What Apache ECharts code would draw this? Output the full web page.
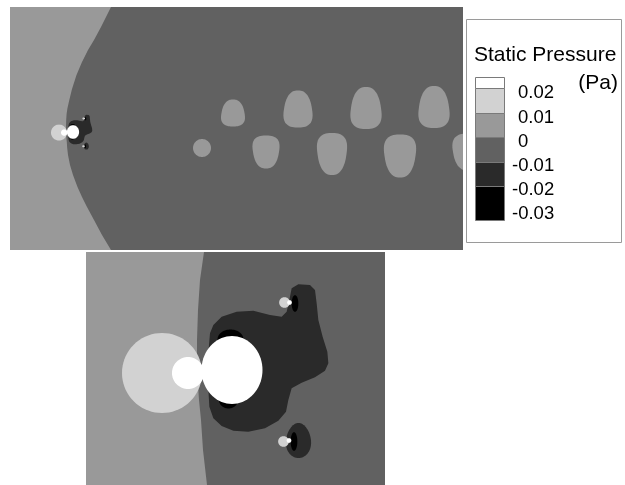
<!DOCTYPE html>
<html><head><meta charset="utf-8">
<script src="https://cdn.jsdelivr.net/npm/echarts@6/dist/echarts.min.js"></script>
<style>html,body{margin:0;padding:0;background:#fff}#c{width:625px;height:485px}</style>
</head><body><div id="c"></div>
<script>
// ---- contour bands (Static Pressure, Pa) ----
const legendLabels = ['0.02', '0.01', '0', '-0.01', '-0.02', '-0.03'];
const bandColors = ['#ffffff', '#d2d2d2', '#999999', '#616161', '#2a2a2a', '#000000'];

// 0 Pa isoline in front of the body (domain units): x, y
const frontX = [-80, 101, 91, 84, 78, 72, 66.5, 62, 59.3, 57.4, 56.6, 56.2, 56.0, 56.0, 56.4, 56.8, 57.2, 58.0, 60, 63, 67.5, 72, 77, 84, 92, 101, 110, -80];
const frontY = [-20, 0, 20, 33, 43, 55, 68, 82, 93, 101.4, 107, 113, 119, 125, 131, 135, 141, 148, 158, 168, 180, 190, 200, 213, 228, 243, 262, 262];

// wake cells (0 .. 0.01 Pa): centre x, y, width, height, taper (+1 narrow top, -1 narrow bottom)
const wakeX = [223, 288, 356, 424, 192, 256, 322, 390, 458];
const wakeY = [106, 102, 101, 100, 141, 145, 147, 149, 145];
const wakeW = [23, 28, 30, 30, 18, 26, 29, 31, 30];
const wakeH = [27, 37, 42, 42, 18, 33, 42, 43, 37];
const wakeTaper = [1, 1, 1, 1, 0, -1, -1, -1, -1];

// suction zone (-0.02 .. -0.01 Pa) behind the body
const suctionX = [58.6, 59.27, 60.93, 63.93, 67.27, 70.6, 72.93, 73.93, 74.47, 74.93, 76.27, 78.6, 79.6, 79.93, 80.27, 81.13, 82.07, 82.27, 81.6, 79.6, 76.93, 74.93, 74.27, 73.8, 72.27, 69.6, 66.27, 63.27, 60.93, 59.27, 58.47, 58.2, 58.2];
const suctionY = [117.67, 116.0, 114.33, 113.33, 113.13, 114.0, 114.33, 113.33, 111.0, 108.67, 107.87, 108.0, 109.0, 111.67, 115.0, 118.33, 121.33, 123.67, 125.13, 126.47, 127.53, 128.67, 131.0, 133.33, 135.13, 136.67, 137.33, 137.13, 136.2, 134.67, 132.33, 127.67, 122.33];
// lower suction pocket: x, y, radius x, radius y
const pocketX = [76.3], pocketY = [139.1], pocketRX = [2.5], pocketRY = [3.5];

// strongest suction (< -0.02 Pa)
const coreX = [62.7, 62.3, 75.6, 75.4];
const coreY = [118.9, 131.0, 111.7, 139.3];
const coreRX = [2.6, 1.9, 0.67, 0.67];
const coreRY = [2.0, 1.7, 1.67, 1.87];

// 0.01 .. 0.02 Pa
const highX = [49.0, 73.5, 73.3];
const highY = [125.6, 111.5, 139.3];
const highRX = [8.0, 1.07, 1.07];
const highRY = [8.0, 1.07, 1.07];

// > 0.02 Pa
const peakX = [54.2, 63.0, 74.5, 74.4];
const peakY = [125.6, 125.0, 111.5, 139.1];
const peakRX = [3.2, 6.1, 0.47, 0.47];
const peakRY = [3.2, 6.8, 0.47, 0.47];

const FONT = '"Liberation Sans", Arial, sans-serif';

function shapePoints(c, s, taper, power) {
  const pts = [], n = 72, e = 2 / power;
  for (let i = 0; i < n; i++) {
    const t = i / n * 2 * Math.PI;
    const ct = Math.cos(t), st = Math.sin(t);
    const px = Math.sign(ct) * Math.pow(Math.abs(ct), e);
    const py = Math.sign(st) * Math.pow(Math.abs(st), e);
    const f = 1 + taper * 0.2 * py;
    pts.push([c[0] + s[0] * px * f, c[1] + s[1] * py]);
  }
  return pts;
}

function polySeries(g, xs, ys, color) {
  return {
    type: 'custom', xAxisIndex: g, yAxisIndex: g, clip: true, silent: true,
    data: xs.map((x, i) => [x, ys[i]]),
    renderItem(params, api) {
      if (params.dataIndex !== 0) return null;
      const pts = xs.map((x, i) => api.coord([x, ys[i]]));
      return { type: 'polygon', shape: { points: pts }, style: { fill: color } };
    }
  };
}

function blobSeries(g, xs, ys, rxs, rys, tapers, color, power) {
  return {
    type: 'custom', xAxisIndex: g, yAxisIndex: g, clip: true, silent: true,
    data: xs.map((x, i) => [x, ys[i], rxs[i], rys[i], tapers ? tapers[i] : 0]),
    renderItem(params, api) {
      const c = api.coord([api.value(0), api.value(1)]);
      const s = api.size([api.value(2), api.value(3)]);
      const tp = api.value(4);
      const pw = tp === 0 ? 2 : power;
      return { type: 'polygon', shape: { points: shapePoints(c, [Math.abs(s[0]), Math.abs(s[1])], tp, pw) }, style: { fill: color } };
    }
  };
}

function panelSeries(g) {
  return [
    polySeries(g, frontX, frontY, bandColors[2]),
    blobSeries(g, wakeX, wakeY, wakeW.map(w => w / 2), wakeH.map(h => h / 2), wakeTaper, bandColors[2], 2.6),
    polySeries(g, suctionX, suctionY, bandColors[4]),
    blobSeries(g, pocketX, pocketY, pocketRX, pocketRY, [0.6], bandColors[4], 2),
    blobSeries(g, coreX, coreY, coreRX, coreRY, null, bandColors[5], 2),
    blobSeries(g, highX, highY, highRX, highRY, null, bandColors[1], 2),
    blobSeries(g, peakX, peakY, peakRX, peakRY, null, bandColors[0], 2)
  ];
}

// legend graphic built from the band arrays
const swTop = [77, 88, 113, 137, 162, 186];
const swBot = [88, 113, 137, 162, 186, 220];
const labY = [93.3, 117.8, 141.5, 165.5, 189.5, 213.5];
const graphics = [
  { type: 'rect', shape: { x: 466.5, y: 19.5, width: 155, height: 223 }, style: { fill: '#fff', stroke: '#9a9a9a', lineWidth: 1 } },
  { type: 'text', x: 474, y: 55, style: { text: 'Static Pressure', font: '21px ' + FONT, fill: '#000', align: 'left', verticalAlign: 'middle', textAlign: 'left', textVerticalAlign: 'middle' } },
  { type: 'text', x: 618, y: 83, style: { text: '(Pa)', font: '21px ' + FONT, fill: '#000', align: 'right', verticalAlign: 'middle', textAlign: 'right', textVerticalAlign: 'middle' } }
];
bandColors.forEach((col, i) => {
  graphics.push({ type: 'rect', shape: { x: 475.5, y: swTop[i] + 0.5, width: 29, height: swBot[i] - swTop[i] }, style: { fill: col, stroke: '#7a7a7a', lineWidth: 1 } });
});
legendLabels.forEach((lab, i) => {
  graphics.push({ type: 'text', x: lab.startsWith('-') ? 512 : 518, y: labY[i], style: { text: lab, font: '18.5px ' + FONT, fill: '#000', align: 'left', verticalAlign: 'middle', textAlign: 'left', textVerticalAlign: 'middle' } });
});

const chart = echarts.init(document.getElementById('c'));
chart.setOption({
  animation: false,
  backgroundColor: '#ffffff',
  grid: [
    { left: 10, top: 7, width: 453, height: 243, show: true, backgroundColor: bandColors[3], borderWidth: 0 },
    { left: 86, top: 252, width: 299, height: 233, show: true, backgroundColor: bandColors[3], borderWidth: 0 }
  ],
  xAxis: [
    { type: 'value', gridIndex: 0, min: 0, max: 453, show: false },
    { type: 'value', gridIndex: 1, min: 33.8, max: 93.6, show: false }
  ],
  yAxis: [
    { type: 'value', gridIndex: 0, min: 0, max: 243, inverse: true, show: false },
    { type: 'value', gridIndex: 1, min: 101.4, max: 148.0, inverse: true, show: false }
  ],
  graphic: graphics,
  series: panelSeries(0).concat(panelSeries(1))
});
</script>
</body></html>
